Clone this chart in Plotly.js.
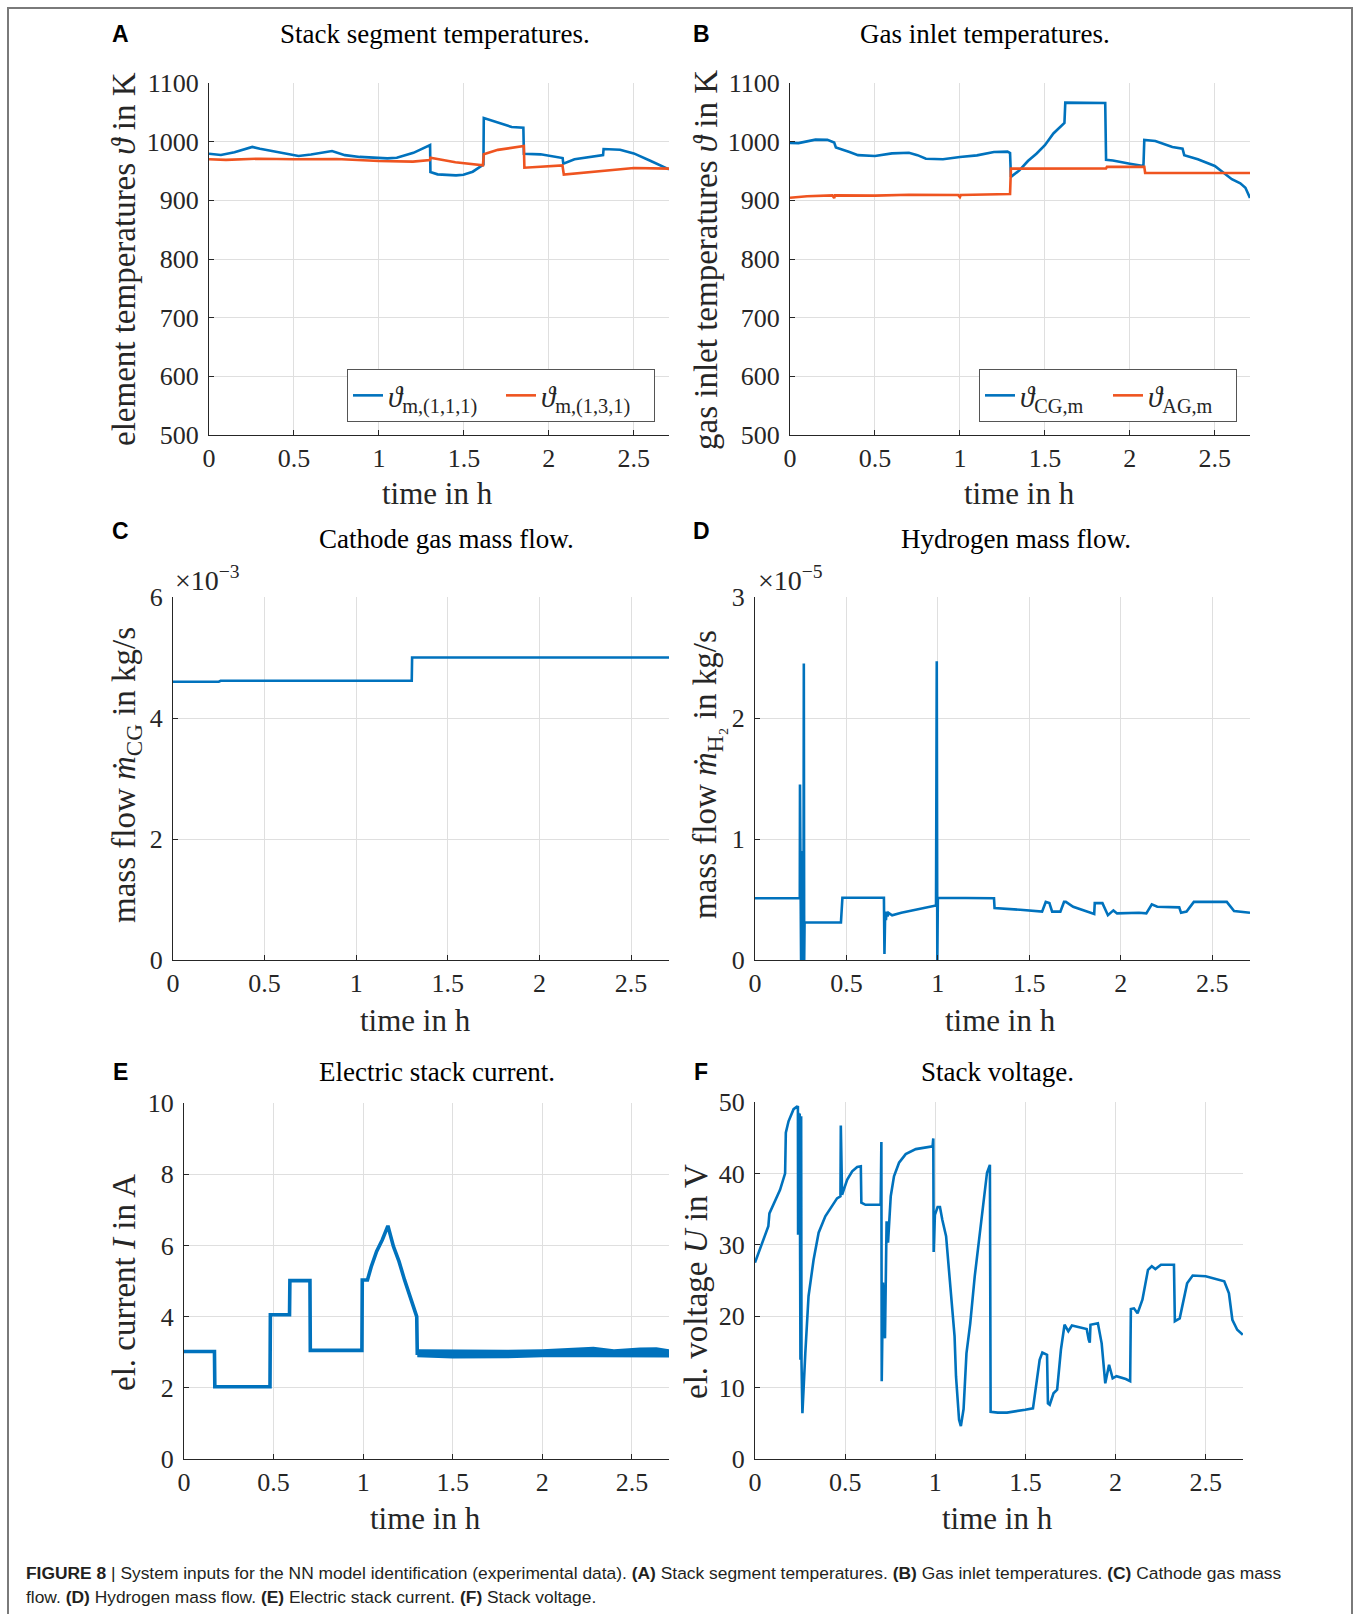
<!DOCTYPE html>
<html><head><meta charset="utf-8">
<script src="https://cdn.plot.ly/plotly-3.0.1.min.js"></script>
<style>html,body{margin:0;padding:0;background:#fff;} #chart{width:1354px;height:1614px;}</style>
</head><body><div id="chart"></div>
<script>
// ---------- DATA (time in h) ----------
// (A) Stack segment temperatures, K
const aBlueT = [0, 0.07, 0.15, 0.255, 0.3, 0.4, 0.527, 0.6, 0.724, 0.8, 0.887, 1.05, 1.105, 1.203, 1.301, 1.303, 1.345, 1.454, 1.497, 1.552, 1.606, 1.615, 1.617, 1.704, 1.781, 1.85, 1.853, 1.951, 2.053, 2.081, 2.085, 2.151, 2.319, 2.322, 2.419, 2.5, 2.6, 2.707];
const aBlueV = [979.5, 977.3, 982, 991, 988, 982, 975.5, 978, 984, 977, 974, 971.5, 972.7, 981, 994.3, 948.2, 944.3, 942.5, 943.7, 948.8, 958.5, 961, 1040.4, 1032.4, 1025, 1023.9, 979.5, 978.4, 973.8, 972.1, 962.5, 969.9, 977.2, 987.5, 986.3, 980, 967, 952.8];
const aRedT = [0, 0.1, 0.3, 0.5, 0.75, 1.0, 1.2, 1.3, 1.303, 1.45, 1.612, 1.617, 1.7, 1.853, 1.856, 2.08, 2.088, 2.3, 2.5, 2.707];
const aRedV = [970, 969, 971, 970, 970.5, 967, 966, 968.5, 972.5, 965, 959.6, 978.4, 986, 992.6, 955.6, 959.6, 944, 950, 955, 954];
// (B) Gas inlet temperatures, K
const bBlueT = [0, 0.05, 0.15, 0.22, 0.26, 0.27, 0.35, 0.4, 0.5, 0.6, 0.7, 0.75, 0.8, 0.9, 1.0, 1.1, 1.2, 1.28, 1.295, 1.3, 1.35, 1.4, 1.45, 1.5, 1.55, 1.6, 1.615, 1.62, 1.855, 1.86, 1.9, 2.0, 2.08, 2.085, 2.15, 2.25, 2.31, 2.32, 2.4, 2.5, 2.55, 2.6, 2.65, 2.68, 2.707];
const bBlueV = [998, 997.5, 1003.4, 1003, 998.5, 990, 982.4, 977, 975.5, 980, 981, 977, 971, 970, 974, 976.7, 982.4, 983, 980.7, 940, 951, 967, 979.5, 994, 1014, 1028, 1032, 1066.5, 1066, 969, 968, 962.5, 958.5, 1003, 1001, 991, 988, 977, 970, 958.5, 948, 936, 929, 921.5, 904];
const bRedT = [0, 0.1, 0.25, 0.26, 0.265, 0.5, 0.7, 0.99, 1.0, 1.005, 1.295, 1.3, 1.86, 1.865, 2.085, 2.09, 2.707];
const bRedV = [904.4, 907, 908.4, 904, 908.4, 908, 909.5, 909, 905.5, 909, 910.7, 954, 954.5, 957, 957, 946.5, 946.5];
// (C) Cathode gas mass flow, kg/s
const cT = [0, 0.25, 0.26, 1.303, 1.305, 2.707];
const cV = [4.60e-3, 4.60e-3, 4.615e-3, 4.615e-3, 5.0e-3, 5.0e-3];
// (D) Hydrogen mass flow, kg/s (values in 1e-5)
const dT = [0, 0.245, 0.246, 0.248, 0.25, 0.252, 0.255, 0.26, 0.265, 0.267, 0.269, 0.271, 0.47, 0.478, 0.705, 0.708, 0.712, 0.716, 0.72, 0.725, 0.73, 0.75, 0.8, 0.9, 0.99, 0.994, 0.997, 1.0, 1.307, 1.31, 1.45, 1.57, 1.59, 1.61, 1.625, 1.67, 1.69, 1.70, 1.74, 1.855, 1.858, 1.9, 1.93, 1.96, 1.98, 2.1, 2.14, 2.17, 2.2, 2.32, 2.33, 2.36, 2.4, 2.58, 2.62, 2.707];
const dV1e5 = [0.51, 0.51, 1.45, 0, 1.40, 0, 0.9, 0.3, 0, 2.45, 0, 0.31, 0.31, 0.515, 0.515, 0.05, 0.40, 0.33, 0.40, 0.36, 0.39, 0.37, 0.39, 0.42, 0.45, 2.47, 0, 0.515, 0.51, 0.43, 0.415, 0.40, 0.48, 0.47, 0.40, 0.40, 0.48, 0.48, 0.44, 0.38, 0.47, 0.47, 0.37, 0.41, 0.385, 0.39, 0.385, 0.46, 0.44, 0.435, 0.39, 0.40, 0.48, 0.48, 0.405, 0.39];
// (E) Electric stack current, A
const eT = [0, 0.17, 0.172, 0.48, 0.482, 0.589, 0.591, 0.703, 0.705, 0.993, 0.995, 1.024, 1.045, 1.075, 1.107, 1.138, 1.169, 1.2, 1.231, 1.262, 1.282, 1.299, 1.302, 2.707];
const eV = [3.02, 3.02, 2.03, 2.03, 4.05, 4.05, 5.01, 5.01, 3.05, 3.05, 5.03, 5.03, 5.4, 5.83, 6.16, 6.55, 5.97, 5.55, 5.03, 4.56, 4.19, 4.0, 2.97, 2.97];
// (E) noise band envelope after 1.3 h
const eBandT = [1.302, 1.5, 1.8, 2.0, 2.285, 2.4, 2.544, 2.637, 2.707];
const eBandUp = [3.08, 3.07, 3.07, 3.08, 3.15, 3.08, 3.13, 3.14, 3.08];
const eBandLo = [2.86, 2.82, 2.83, 2.86, 2.86, 2.86, 2.86, 2.85, 2.85];
// (F) Stack voltage, V
const fT = [0, 0.074, 0.08, 0.139, 0.167, 0.171, 0.186, 0.214, 0.232, 0.238, 0.239, 0.241, 0.244, 0.248, 0.252, 0.256, 0.258, 0.263, 0.279, 0.297, 0.325, 0.353, 0.390, 0.428, 0.455, 0.474, 0.476, 0.483, 0.511, 0.539, 0.567, 0.587, 0.59, 0.613, 0.697, 0.701, 0.703, 0.710, 0.721, 0.730, 0.738, 0.753, 0.771, 0.799, 0.836, 0.892, 0.985, 0.989, 0.991, 0.998, 1.013, 1.026, 1.039, 1.060, 1.074, 1.091, 1.107, 1.115, 1.132, 1.142, 1.157, 1.173, 1.194, 1.219, 1.245, 1.266, 1.287, 1.303, 1.307, 1.347, 1.398, 1.499, 1.542, 1.579, 1.594, 1.620, 1.625, 1.635, 1.656, 1.676, 1.697, 1.717, 1.738, 1.758, 1.840, 1.851, 1.857, 1.861, 1.902, 1.923, 1.943, 1.964, 1.984, 2.005, 2.057, 2.081, 2.085, 2.102, 2.122, 2.149, 2.180, 2.201, 2.221, 2.252, 2.324, 2.329, 2.356, 2.397, 2.428, 2.5, 2.603, 2.629, 2.648, 2.675, 2.706];
const fV = [27.5, 32.6, 34.4, 37.7, 40.0, 45.7, 47.3, 49.0, 49.35, 49.3, 31.4, 48.5, 31.5, 48.4, 13.9, 48.0, 13.5, 6.4, 14.8, 22.8, 27.9, 31.7, 34.0, 35.5, 36.5, 36.8, 46.7, 37.0, 39.1, 40.3, 40.9, 41.0, 35.9, 35.6, 35.6, 44.4, 10.9, 24.7, 16.9, 33.3, 30.3, 36.8, 39.6, 41.5, 42.7, 43.4, 43.8, 44.9, 29.0, 34.2, 35.3, 35.3, 33.5, 31.2, 27.0, 22.3, 17.2, 11.6, 5.5, 4.6, 7.0, 14.8, 19.0, 25.6, 31.2, 36.3, 40.1, 41.2, 6.6, 6.5, 6.5, 6.9, 7.1, 13.9, 14.9, 14.6, 7.8, 7.6, 9.2, 9.7, 15.3, 18.8, 17.9, 18.7, 18.2, 16.7, 16.3, 18.8, 19.0, 16.2, 10.6, 13.2, 11.3, 11.6, 11.2, 10.9, 21.0, 21.1, 20.4, 22.3, 26.5, 27.0, 26.6, 27.2, 27.2, 19.3, 19.7, 24.6, 25.7, 25.6, 24.9, 23.2, 19.5, 18.1, 17.4];

// Tick labels
const xTickVals = [0, 0.5, 1, 1.5, 2, 2.5];
const xTickText = ['0', '0.5', '1', '1.5', '2', '2.5'];
const tempTicks = [500, 600, 700, 800, 900, 1000, 1100];
const cTickVals = [0, 0.002, 0.004, 0.006], cTickText = ['0', '2', '4', '6'];
const dTickVals = [0, 1e-5, 2e-5, 3e-5], dTickText = ['0', '1', '2', '3'];
const eTicks = [0, 2, 4, 6, 8, 10];
const fTicks = [0, 10, 20, 30, 40, 50];

// ---------- LAYOUT ----------
const W = 1354, H = 1614;
const px = p => p / W, py = p => 1 - p / H;
const SERIF = 'Liberation Serif, Times New Roman, serif';
const SANS = 'Liberation Sans, Arial, sans-serif';
const BLUE = '#0072BD', RED = '#EF5420', INK = '#262626', GRID = '#dfdfdf';
const XMAX = 2.707;

function xAx(x0, x1, anchor) {
  return {domain: [px(x0), px(x1)], range: [0, XMAX], anchor: anchor,
    tickmode: 'array', tickvals: xTickVals, ticktext: xTickText,
    showgrid: true, gridcolor: GRID, gridwidth: 1, zeroline: false,
    showline: true, linecolor: INK, linewidth: 1, mirror: false,
    ticks: 'inside', ticklen: 5, tickcolor: INK, ticklabelstandoff: 0,
    tickfont: {family: SERIF, size: 26, color: INK}, fixedrange: true};
}
function yAx(y0, y1, anchor, range, tv, tt) {
  return {domain: [py(y1), py(y0)], range: range, anchor: anchor,
    tickmode: 'array', tickvals: tv, ticktext: tt || tv.map(String),
    showgrid: true, gridcolor: GRID, gridwidth: 1, zeroline: false,
    showline: true, linecolor: INK, linewidth: 1, mirror: false,
    ticks: 'inside', ticklen: 5, tickcolor: INK, ticklabelstandoff: 4,
    tickfont: {family: SERIF, size: 26, color: INK}, fixedrange: true};
}

const line = (x, y, xa, ya, color, name, legend, width) => ({
  x: x, y: y, xaxis: xa, yaxis: ya, type: 'scatter', mode: 'lines',
  line: {color: color, width: width || 2.6}, name: name || '',
  showlegend: !!name, legend: legend || 'legend', hoverinfo: 'skip'});

const data = [
  line(aBlueT, aBlueV, 'x', 'y', BLUE, '<i>ϑ</i><sub>m,(1,1,1)</sub>', 'legend'),
  line(aRedT, aRedV, 'x', 'y', RED, '<i>ϑ</i><sub>m,(1,3,1)</sub>', 'legend'),
  line(bBlueT, bBlueV, 'x2', 'y2', BLUE, '<i>ϑ</i><sub>CG,m</sub>', 'legend2'),
  line(bRedT, bRedV, 'x2', 'y2', RED, '<i>ϑ</i><sub>AG,m</sub>', 'legend2'),
  line(cT, cV, 'x3', 'y3', BLUE),
  line(dT, dV1e5.map(v => v * 1e-5), 'x4', 'y4', BLUE),
  {x: eBandT, y: eBandLo, xaxis: 'x5', yaxis: 'y5', type: 'scatter', mode: 'lines',
   line: {width: 0, color: BLUE}, showlegend: false, hoverinfo: 'skip'},
  {x: eBandT, y: eBandUp, xaxis: 'x5', yaxis: 'y5', type: 'scatter', mode: 'lines',
   line: {width: 0, color: BLUE}, fill: 'tonexty', fillcolor: BLUE, showlegend: false, hoverinfo: 'skip'},
  line(eT, eV, 'x5', 'y5', BLUE, null, null, 3.6),
  line(fT, fV, 'x6', 'y6', BLUE)
];

const ann = [];
function txt(x, y, text, size, opts) {
  ann.push(Object.assign({xref: 'paper', yref: 'paper', x: px(x), y: py(y), text: text,
    showarrow: false, xanchor: 'center', yanchor: 'middle',
    font: {family: SERIF, size: size, color: INK}}, opts || {}));
}
// panel letters
[['A', 120, 34], ['B', 701, 34], ['C', 120, 531], ['D', 701, 531], ['E', 120, 1072], ['F', 701, 1072]]
  .forEach(([l, x, y]) => txt(x, y, '<b>' + l + '</b>', 23, {font: {family: SANS, size: 23, color: '#000'}}));
// panel titles
const TF = {family: SERIF, size: 27, color: '#000'};
txt(435, 34, 'Stack segment temperatures.', 27, {font: TF});
txt(985, 34, 'Gas inlet temperatures.', 27, {font: TF});
txt(446, 539, 'Cathode gas mass flow.', 27, {font: TF});
txt(1016, 539, 'Hydrogen mass flow.', 27, {font: TF});
txt(437, 1072, 'Electric stack current.', 27, {font: TF});
txt(997, 1072, 'Stack voltage.', 27, {font: TF});
// x-axis titles
[[438, 493], [1019, 493], [415, 1020], [1000, 1020], [425, 1518], [997, 1518]]
  .forEach(([x, y]) => txt(x, y, 'time in h', 31));
// y-axis titles
txt(124, 259, 'element temperatures <i>ϑ</i> in K', 33, {textangle: -90});
txt(706, 260, 'gas inlet temperatures <i>ϑ</i> in K', 33, {textangle: -90});
txt(126, 775, 'mass flow <i>ṁ</i><sub>CG</sub> in kg/s', 33, {textangle: -90});
txt(707, 775, 'mass flow <i>ṁ</i><sub>H₂</sub> in kg/s', 33, {textangle: -90});
txt(124, 1282, 'el. current <i>I</i> in A', 33, {textangle: -90});
txt(696, 1282, 'el. voltage <i>U</i> in V', 33, {textangle: -90});
// exponent labels
txt(173, 578, '×10<sup>−3</sup>', 28, {xanchor: 'left'});
txt(756, 578, '×10<sup>−5</sup>', 28, {xanchor: 'left'});
// caption
const CF = {family: SANS, size: 17.4, color: '#231f20'};
txt(24, 1573, '<b>FIGURE 8</b> | System inputs for the NN model identification (experimental data). <b>(A)</b> Stack segment temperatures. <b>(B)</b> Gas inlet temperatures. <b>(C)</b> Cathode gas mass', 17.4,
  {xanchor: 'left', font: CF});
txt(24, 1597, 'flow. <b>(D)</b> Hydrogen mass flow. <b>(E)</b> Electric stack current. <b>(F)</b> Stack voltage.', 17.4,
  {xanchor: 'left', font: CF});

const legendBase = {orientation: 'h', bgcolor: '#ffffff', bordercolor: '#555555', borderwidth: 1,
  font: {family: SERIF, size: 29, color: INK}, xanchor: 'right', yanchor: 'bottom',
  traceorder: 'normal', entrywidthmode: 'pixels',
  itemclick: false, itemdoubleclick: false, tracegroupgap: 0};

const layout = {
  width: W, height: H, margin: {l: 0, r: 0, t: 0, b: 0},
  paper_bgcolor: '#ffffff', plot_bgcolor: '#ffffff', showlegend: true, hovermode: false,
  xaxis: xAx(209, 669, 'y'), yaxis: yAx(83, 435, 'x', [500, 1100], tempTicks),
  xaxis2: xAx(790, 1250, 'y2'), yaxis2: yAx(83, 435, 'x2', [500, 1100], tempTicks),
  xaxis3: xAx(173, 669, 'y3'), yaxis3: yAx(597, 960, 'x3', [0, 0.006], cTickVals, cTickText),
  xaxis4: xAx(755, 1250, 'y4'), yaxis4: yAx(597, 960, 'x4', [0, 3e-5], dTickVals, dTickText),
  xaxis5: xAx(184, 669, 'y5'), yaxis5: yAx(1103, 1459, 'x5', [0, 10], eTicks),
  xaxis6: xAx(755, 1243, 'y6'), yaxis6: yAx(1102, 1459, 'x6', [0, 50], fTicks),
  legend: Object.assign({}, legendBase, {x: px(655), y: py(422), entrywidth: 108}),
  legend2: Object.assign({}, legendBase, {x: px(1237), y: py(422), entrywidth: 83}),
  annotations: ann,
  shapes: [{type: 'rect', xref: 'paper', yref: 'paper', x0: px(8), x1: px(1352), y0: py(8), y1: -0.2,
    line: {color: '#7a7a7a', width: 2}, fillcolor: 'rgba(0,0,0,0)', layer: 'below'}]
};

Plotly.newPlot('chart', data, layout, {displayModeBar: false, staticPlot: true});
</script></body></html>
